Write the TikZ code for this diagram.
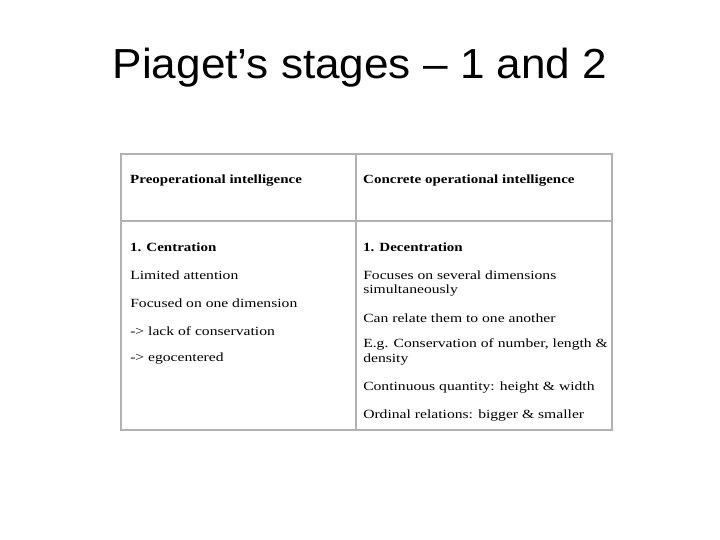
\documentclass[tikz,border=0pt]{standalone}
\usepackage{fontspec}
\setmainfont{Liberation Serif}
\newfontfamily\titlefont{Liberation Sans}
\begin{document}
\begin{tikzpicture}[x=1pt,y=-1pt,
  cell/.style={anchor=west,inner sep=0pt,xscale=1.25,font=\fontsize{12.5}{14}\selectfont},
  hd/.style={anchor=west,inner sep=0pt,xscale=1.2,font=\fontsize{12.5}{14}\selectfont\bfseries},
  grid/.style={draw=black!30,line width=1.2pt}]
\useasboundingbox (0,0) rectangle (720,540);
\node[font=\titlefont\fontsize{42}{48}\selectfont,xscale=1.05] (title) at (360,68) {Piaget’s stages – 1 and 2};
\draw[grid] (121,154) rectangle (612,430);
\draw[grid] (356,154) -- (356,430);
\draw[grid] (121,221) -- (612,221);
\node[hd] (h1) at (130,181) {Preoperational intelligence};
\node[hd] (h2) at (363,181) {Concrete operational intelligence};
\node[hd] (l1) at (130,247) {1. Centration};
\node[cell] (l2) at (130,275) {Limited attention};
\node[cell] (l3) at (130,303) {Focused on one dimension};
\node[cell] (l4) at (130,331) {-> lack of conservation};
\node[cell] (l5) at (130,359) {-> egocentered};
\node[hd] (r1) at (363,247) {1. Decentration};
\node[cell] (r2) at (363,275) {Focuses on several dimensions};
\node[cell] (r3) at (363,291) {simultaneously};
\node[cell] (r4) at (363,318) {Can relate them to one another};
\node[cell] (r5) at (363,344) {E.g. Conservation of number, length \&};
\node[cell] (r6) at (363,360) {density};
\node[cell] (r7) at (363,388) {Continuous quantity: height \& width};
\node[cell] (r8) at (363,416) {Ordinal relations: bigger \& smaller};
\end{tikzpicture}
\end{document}
